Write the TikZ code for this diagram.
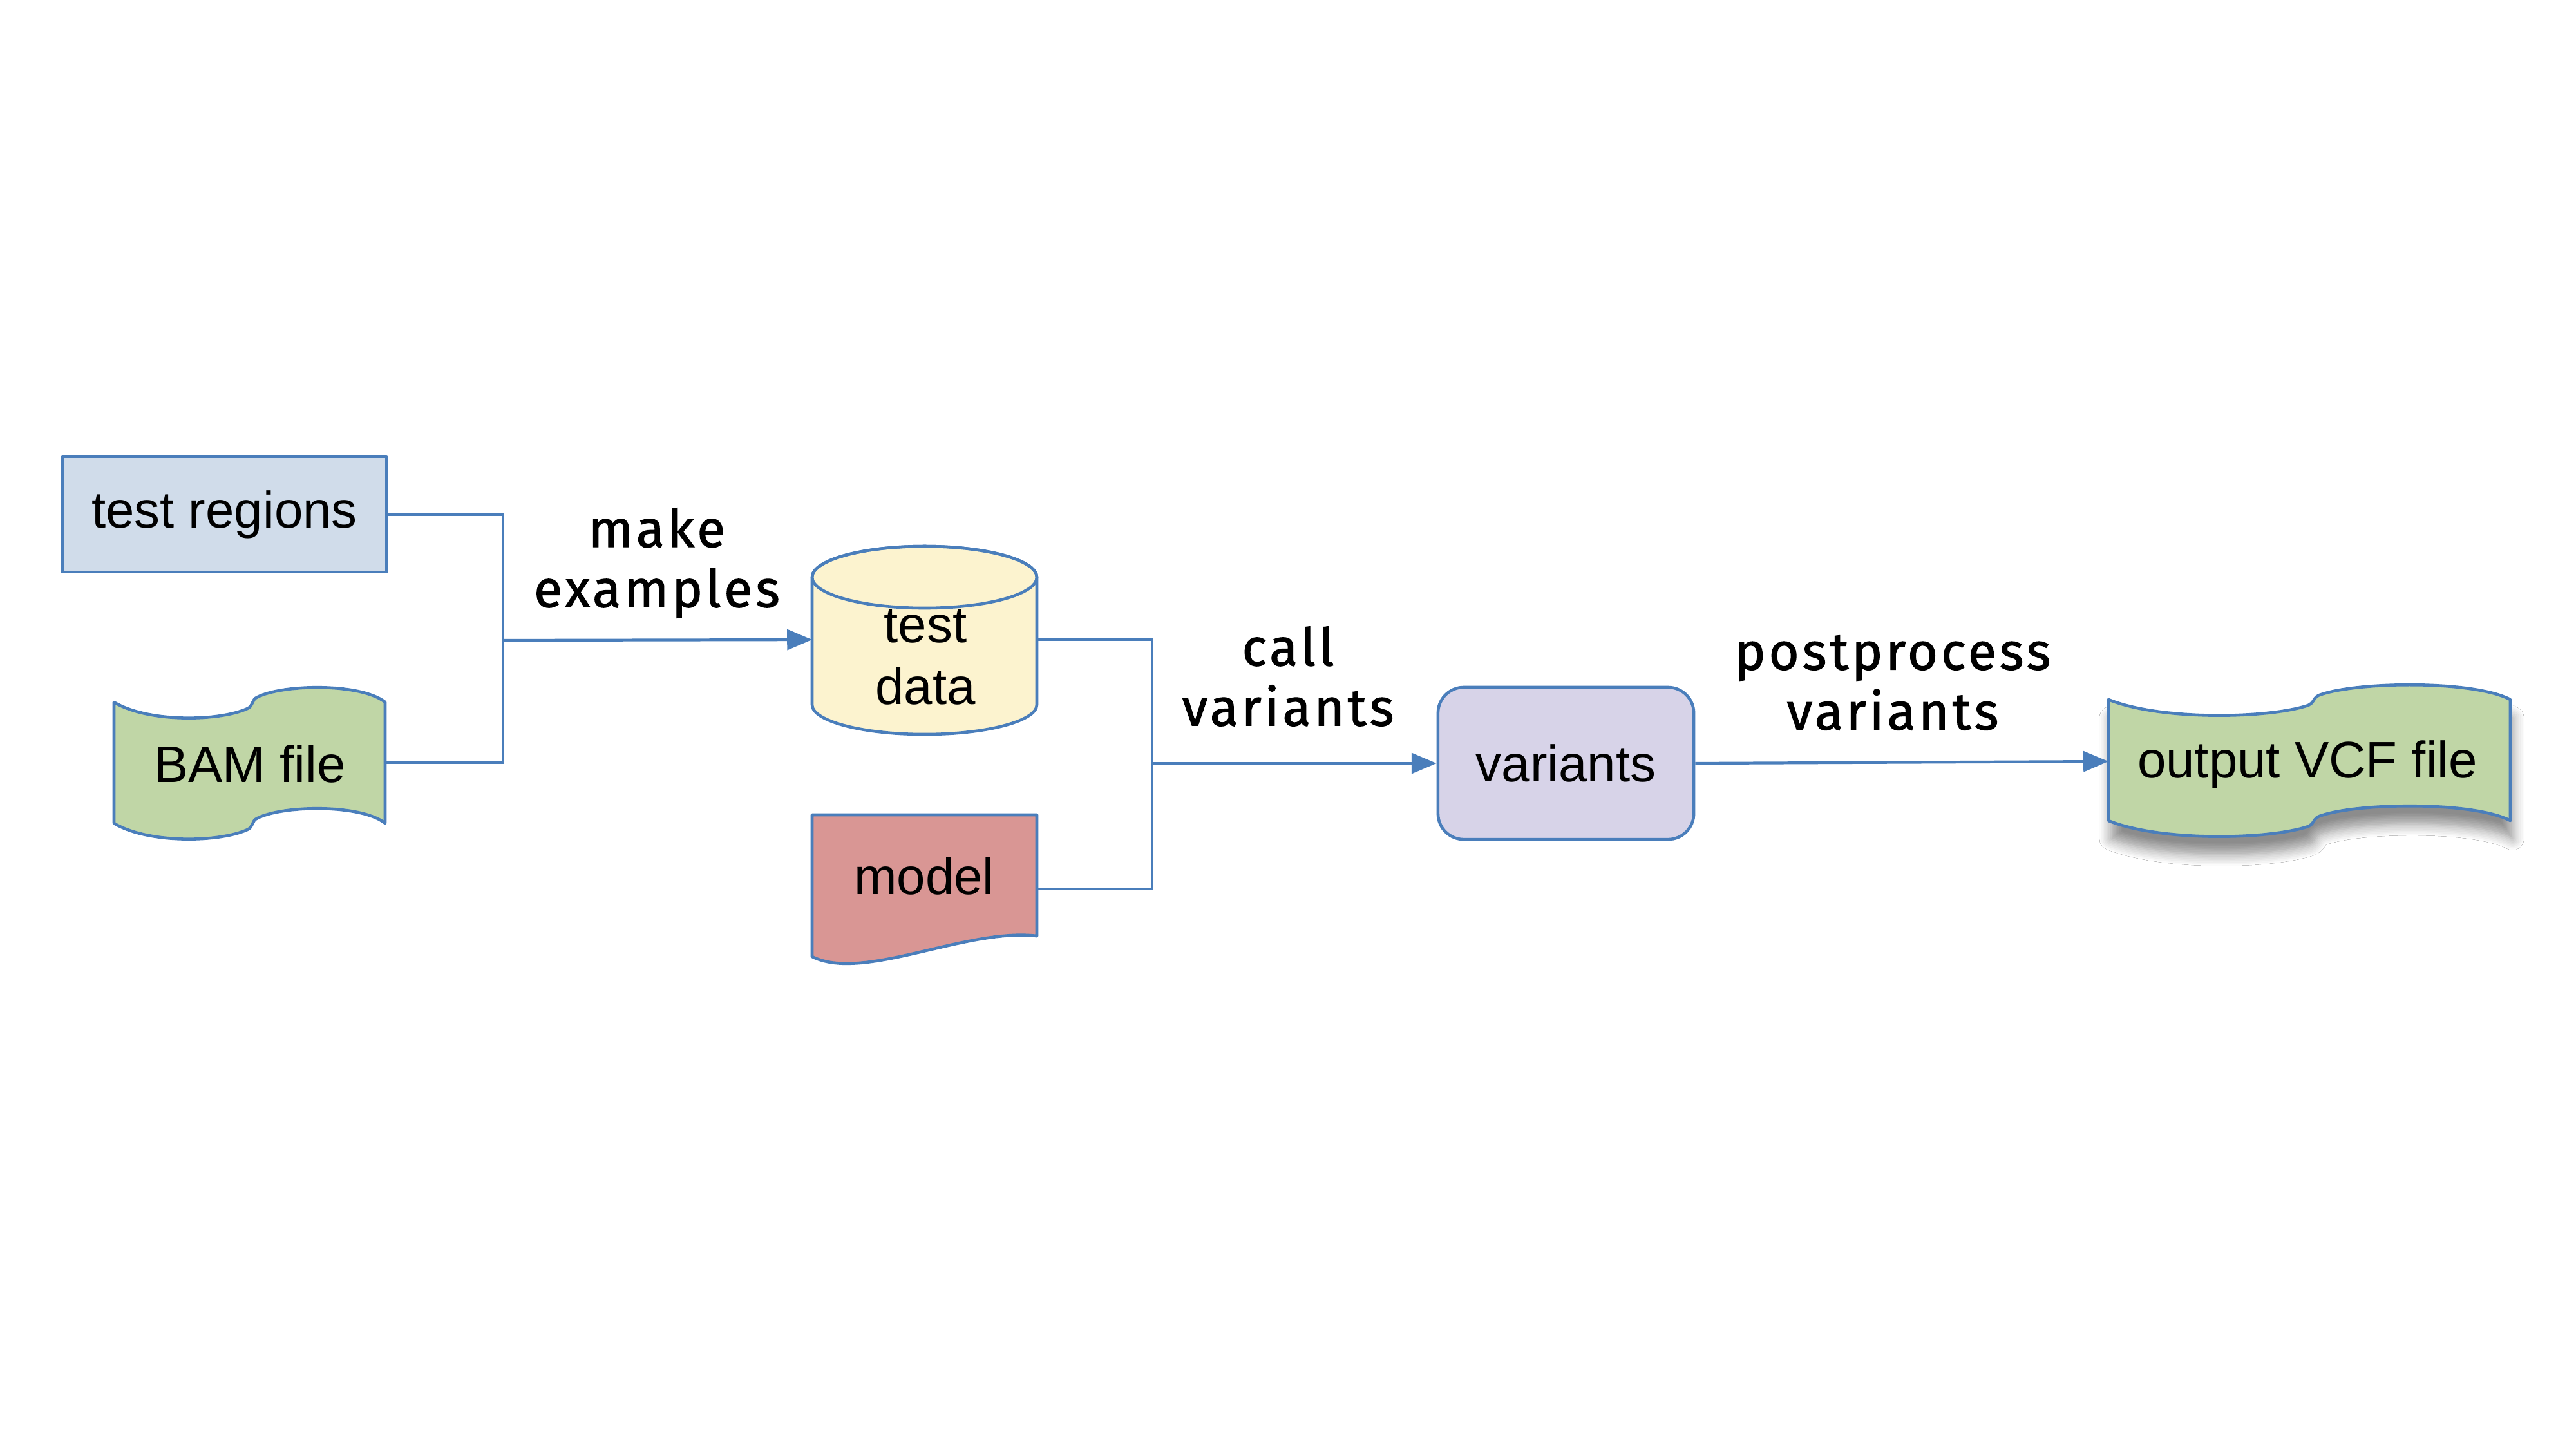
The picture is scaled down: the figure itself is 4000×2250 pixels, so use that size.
\documentclass[tikz,border=0pt]{standalone}
\usepackage{fontspec}
\setmainfont{Liberation Sans}
\newfontfamily\lblfont[LetterSpace=6, FakeBold=1.3]{Fira Sans}
\usetikzlibrary{arrows.meta,shadows.blur}
\definecolor{lineblue}{RGB}{74,126,187}
\definecolor{fillblue}{RGB}{208,220,234}
\definecolor{fillgreen}{RGB}{192,214,166}
\definecolor{fillyellow}{RGB}{252,243,207}
\definecolor{fillred}{RGB}{217,150,148}
\definecolor{fillpurple}{RGB}{215,211,232}
\tikzset{
  outline/.style={draw=lineblue, line width=1.3pt, line join=round},
  inv/.style={draw=none, inner sep=0pt, outer sep=0pt},
  ntext/.style={inv, font=\fontsize{22.7}{27.4}\selectfont, align=center},
  lbl/.style={inv, font=\lblfont\fontsize{23}{26.5}\selectfont, align=center},
  conn/.style={draw=lineblue, line width=1.2pt},
  arrowconn/.style={conn, -{Triangle[length=11pt,width=9pt]}},
  tapepath/.style={insert path={
    (0,0) .. controls (53,-32) and (163,-30) .. (207,-10)
    .. controls (217,-6) and (213,4) .. (223,8)
    .. controls (263,28) and (383,30) .. (421,0)
    -- (421,-188)
    .. controls (383,-158) and (263,-160) .. (223,-180)
    .. controls (213,-184) and (217,-194) .. (207,-198)
    .. controls (163,-218) and (53,-220) .. (0,-188) -- cycle}},
}
\begin{document}
\begin{tikzpicture}[x=0.01cm,y=0.01cm]
\useasboundingbox (0,0) rectangle (4000,-2250);
\fill[white] (0,0) rectangle (4000,-2250);

% test regions
\node[outline, fill=fillblue, minimum width=5.03cm, minimum height=1.79cm, inner sep=0pt,
      font=\fontsize{22.7}{27.4}\selectfont] (testregions) at (348.5,-798.5) {test regions};

% BAM file (tape)
\path[outline, fill=fillgreen, shift={(177,-1090)}, tapepath];
\node[inv, minimum width=4.21cm, minimum height=2.35cm] (bam) at (387.5,-1184) {};
\node[ntext] (bamtext) at (388,-1186) {BAM file};

% test data (cylinder)
\path[outline, fill=fillyellow] (1261,-896) -- (1261,-1094)
  arc[start angle=180, end angle=360, x radius=174.5, y radius=46] -- (1610,-896)
  arc[start angle=0, end angle=180, x radius=174.5, y radius=48] -- cycle;
\draw[outline] (1435.5,-896) ellipse [x radius=174.5, y radius=48];
\node[inv, minimum width=3.49cm, minimum height=2.95cm] (testdata) at (1435.5,-993) {};
\node[ntext] (testdatatext) at (1437,-1020) {test\\data};

% model (document)
\path[outline, fill=fillred] (1261,-1265) -- (1610,-1265) -- (1610,-1453)
  .. controls (1500,-1440) and (1340,-1525) .. (1261,-1485) -- cycle;
\node[inv, minimum width=3.49cm, minimum height=2.3cm] (model) at (1435.5,-1380) {};
\node[ntext] (modeltext) at (1435,-1360) {model};

% variants
\node[outline, fill=fillpurple, rounded corners=0.4cm, minimum width=3.97cm, minimum height=2.36cm,
      inner sep=0pt, font=\fontsize{22.7}{27.4}\selectfont] (variants) at (2431.5,-1185) {variants};

% output VCF file (tape with shadow)
\path[outline, fill=fillgreen, shift={(3274,-1086)}, xscale=1.482,
      blur shadow={shadow xshift=1pt, shadow yshift=-8pt, shadow blur steps=8, shadow blur radius=5pt, shadow opacity=45},
      tapepath];
\node[inv, minimum width=6.24cm, minimum height=2.32cm] (vcf) at (3586,-1182) {};
\node[ntext] (vcftext) at (3583,-1187) {output VCF file};

% junctions
\coordinate (j1) at (781,-994);
\coordinate (j2) at (1789,-1185);

% connectors
\draw[conn] (testregions.east) -| (j1);
\draw[conn] (bam.east) -| (j1);
\draw[arrowconn] (j1) -- (testdata.west);
\draw[conn] (testdata.east) -| (j2);
\draw[conn] (model.east) -| (j2);
\draw[arrowconn] (j2) -- (variants.west);
\draw[arrowconn] (variants.east) -- (vcf.west);

% labels
\node[lbl] (lblmake) at (1020,-874) {make\\examples};
\node[lbl] (lblcall) at (2000,-1050) {call\\variants};
\node[lbl] (lblpost) at (2939,-1060) {postprocess\\variants};
\end{tikzpicture}
\end{document}
